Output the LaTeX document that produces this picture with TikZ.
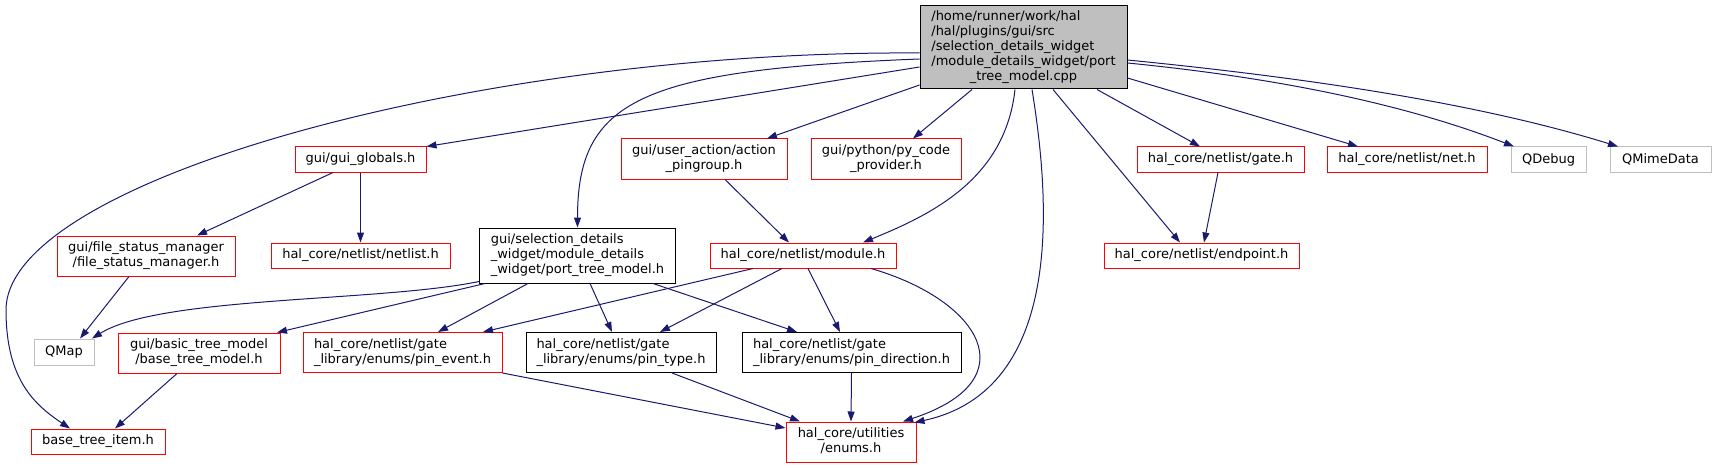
\documentclass[tikz,border=0pt]{standalone}
\usepackage{fontspec}
\setmainfont{DejaVu Sans}
\usetikzlibrary{arrows.meta}
\definecolor{edgeblue}{RGB}{25,25,112}
\definecolor{boxgray}{RGB}{191,191,191}
\newcommand{\mlab}[2]{\begin{tabular}{@{}l@{}}#1\\\multicolumn{1}{@{}c@{}}{#2}\end{tabular}}
\tikzset{
 basebox/.style={draw, line width=1pt, fill=white, inner sep=0pt, font=\fontsize{13}{15}\selectfont, anchor=center},
 redbox/.style={basebox, draw=red},
 blackbox/.style={basebox, draw=black},
 graybox/.style={basebox, draw=boxgray},
 rootbox/.style={basebox, draw=black, fill=boxgray},
 dep/.style={draw=edgeblue, line width=1pt, -{Triangle[length=10pt,width=7pt]}},
}
\begin{document}
\begin{tikzpicture}[x=1pt,y=-1pt]
\useasboundingbox (0,0) rectangle (1716,468);
% nodes
\node[rootbox, minimum width=207pt, minimum height=83pt] (root) at (1023.5,47.5)
 {\mlab{/home/runner/work/hal\\/hal/plugins/gui/src\\/selection\_details\_widget\\/module\_details\_widget/port}{\_tree\_model.cpp}};
\node[redbox, minimum width=131pt, minimum height=25pt] (guiglobals) at (360.5,159.5) {gui/gui\_globals.h};
\node[redbox, minimum width=166pt, minimum height=40pt] (action) at (704,159) {\mlab{gui/user\_action/action}{\_pingroup.h}};
\node[redbox, minimum width=150pt, minimum height=40pt] (pycode) at (886,159) {\mlab{gui/python/py\_code}{\_provider.h}};
\node[redbox, minimum width=167pt, minimum height=25pt] (gate) at (1220.5,159.5) {hal\_core/netlist/gate.h};
\node[redbox, minimum width=160pt, minimum height=25pt] (net) at (1407,159.5) {hal\_core/netlist/net.h};
\node[graybox, minimum width=75pt, minimum height=25pt] (qdebug) at (1548.5,159.5) {QDebug};
\node[graybox, minimum width=101pt, minimum height=25pt] (qmime) at (1660.5,159.5) {QMimeData};
\node[redbox, minimum width=178pt, minimum height=40pt] (fsm) at (146,256) {\mlab{gui/file\_status\_manager}{/file\_status\_manager.h}};
\node[redbox, minimum width=179pt, minimum height=25pt] (netlist) at (360.5,255.5) {hal\_core/netlist/netlist.h};
\node[blackbox, minimum width=196pt, minimum height=55pt] (ptm) at (577.5,255.5) {\mlab{gui/selection\_details\\\_widget/module\_details}{\_widget/port\_tree\_model.h}};
\node[redbox, minimum width=186pt, minimum height=25pt] (module) at (803,255.5) {hal\_core/netlist/module.h};
\node[redbox, minimum width=195pt, minimum height=25pt] (endpoint) at (1201.5,255.5) {hal\_core/netlist/endpoint.h};
\node[graybox, minimum width=60pt, minimum height=26pt] (qmap) at (64,352) {QMap};
\node[redbox, minimum width=162pt, minimum height=40pt] (btm) at (199,353) {\mlab{gui/basic\_tree\_model}{/base\_tree\_model.h}};
\node[redbox, minimum width=199pt, minimum height=40pt] (pinevent) at (402.5,352.5) {\mlab{hal\_core/netlist/gate}{\_library/enums/pin\_event.h}};
\node[blackbox, minimum width=190pt, minimum height=40pt] (pintype) at (621,352.5) {\mlab{hal\_core/netlist/gate}{\_library/enums/pin\_type.h}};
\node[blackbox, minimum width=219pt, minimum height=40pt] (pindir) at (851.5,352.5) {\mlab{hal\_core/netlist/gate}{\_library/enums/pin\_direction.h}};
\node[redbox, minimum width=130pt, minimum height=40pt] (enums) at (851,442) {\mlab{hal\_core/utilities}{/enums.h}};
\node[redbox, minimum width=134pt, minimum height=25pt] (bti) at (98,441.5) {base\_tree\_item.h};
% edges from root
\draw[dep] ([yshift=-5.5pt]root.west) .. controls (480,50) and (6,180) .. (6,310) .. controls (6,380) and (35,405) .. ([xshift=-28pt]bti.north);
\draw[dep] ([yshift=-19.5pt]root.west) -- (guiglobals.north east);
\draw[dep] ([yshift=-11.5pt]root.west) .. controls (640,70) and (577.5,100) .. (ptm.north);
\draw[dep] ([yshift=-37.5pt]root.west) -- ([xshift=63pt]action.north);
\draw[dep] ([xshift=-51.5pt]root.south) -- ([xshift=27pt]pycode.north);
\draw[dep] ([xshift=-8.5pt]root.south) .. controls (1005,180) and (930,215) .. ([xshift=60pt]module.north);
\draw[dep] ([xshift=8.5pt]root.south) .. controls (1050,200) and (1065,390) .. ([xshift=-2pt,yshift=-1pt]enums.north east);
\draw[dep] ([xshift=29.5pt]root.south) -- ([xshift=-21.5pt]endpoint.north);
\draw[dep] ([xshift=73.5pt]root.south) -- ([xshift=-20.5pt]gate.north);
\draw[dep] ([yshift=-30.5pt]root.east) -- ([xshift=-49pt]net.north);
\draw[dep] ([yshift=-15.5pt]root.east) .. controls (1300,80) and (1420,110) .. ([xshift=-34.5pt]qdebug.north);
\draw[dep] ([yshift=-12.5pt]root.east) .. controls (1350,82) and (1500,110) .. ([xshift=-42.5pt]qmime.north);
% other edges
\draw[dep] ([xshift=-27.5pt]guiglobals.south) -- ([xshift=51pt]fsm.north);
\draw[dep] (guiglobals.south) -- (netlist.north);
\draw[dep] ([xshift=-17pt]fsm.south) -- ([xshift=16pt]qmap.north);
\draw[dep] ([yshift=2pt]ptm.south west) .. controls (380,302) and (160,296) .. ([xshift=28pt]qmap.north);
\draw[dep] ([xshift=6pt]ptm.south west) -- ([xshift=78pt]btm.north);
\draw[dep] ([xshift=-49.5pt]ptm.south) -- ([xshift=35.5pt]pinevent.north);
\draw[dep] ([xshift=12.5pt]ptm.south) -- ([xshift=-9pt]pintype.north);
\draw[dep] ([xshift=75.5pt]ptm.south) -- ([xshift=-54.5pt]pindir.north);
\draw[dep] ([xshift=21pt]action.south) -- ([xshift=-14pt]module.north);
\draw[dep] ([xshift=-50pt]module.south) -- ([xshift=80.5pt]pinevent.north);
\draw[dep] ([xshift=-21pt]module.south) -- ([xshift=39pt]pintype.north);
\draw[dep] ([xshift=5pt]module.south) -- ([xshift=-11.5pt]pindir.north);
\draw[dep] ([xshift=68pt]module.south) .. controls (980,300) and (1030,380) .. ([xshift=52pt]enums.north);
\draw[dep] ([xshift=-2.5pt]gate.south) -- ([xshift=2.5pt]endpoint.north);
\draw[dep] ([xshift=-22pt]btm.south) -- ([xshift=17pt]bti.north);
\draw[dep] (pinevent.south east) -- ([yshift=14pt]enums.west);
\draw[dep] ([xshift=51pt]pintype.south) -- ([xshift=-51pt]enums.north);
\draw[dep] (pindir.south) -- (enums.north);
\end{tikzpicture}
\end{document}
